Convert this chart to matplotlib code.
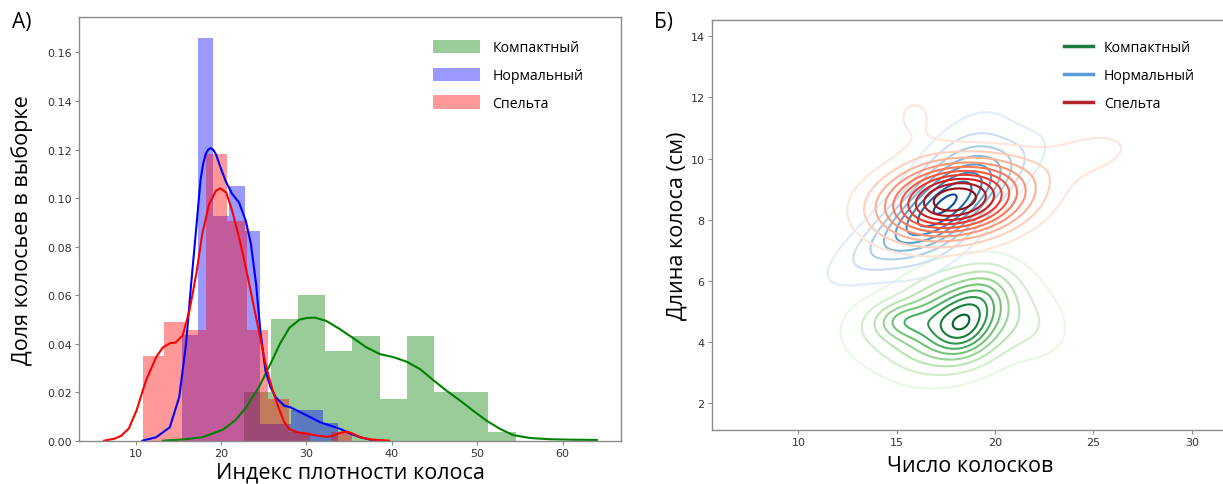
import numpy as np
import matplotlib
matplotlib.use("Agg")
import matplotlib.pyplot as plt
from matplotlib.lines import Line2D
from matplotlib.patches import Patch

# ---------------- Panel A: spike density index ----------------
groups = ["Компактный", "Нормальный", "Спельта"]
hist_colors = ["green", "blue", "red"]

compact_bins = [22.66, 25.84, 29.03, 32.21, 35.39, 38.58, 41.76, 44.94, 48.12, 51.31, 54.49]
compact_hist = [0.020, 0.050, 0.060, 0.037, 0.043, 0.017, 0.043, 0.020, 0.020, 0.0036]

normal_bins = [15.43, 17.26, 19.09, 20.92, 22.75, 24.58, 26.41, 28.24, 30.07, 31.90, 33.73]
normal_hist = [0.0435, 0.166, 0.0927, 0.105, 0.0865, 0.0068, 0.0068, 0.0127, 0.0127, 0.0072]

spelt_bins = [10.84, 13.29, 15.74, 18.19, 20.64, 23.09, 25.54, 27.99, 30.44, 32.89, 35.34]
spelt_hist = [0.035, 0.049, 0.0456, 0.118, 0.0906, 0.0456, 0.0171, 0.0036, 0.0, 0.0036]

# density curves
compact_kde_x = [13.2, 15.5, 17.8, 20.2, 21.7, 23.0, 24.5, 25.7, 26.9, 28.0, 29.2, 30.1, 31.0,
                 32.3, 33.9, 35.5, 37.0, 38.6, 40.2, 41.7, 43.3, 44.8, 46.4, 48.0, 49.5,
                 51.1, 52.7, 54.2, 56.2, 58.5, 61.0, 64.0]
compact_kde_y = [0.0, 0.0005, 0.0014, 0.0045, 0.0085, 0.0140, 0.0225, 0.0310, 0.0400, 0.0465,
                 0.0499, 0.0506, 0.0507, 0.0494, 0.0460, 0.0422, 0.0385, 0.0357, 0.0344, 0.0326,
                 0.0295, 0.0251, 0.0206, 0.0165, 0.0124, 0.0082, 0.0048, 0.0023, 0.0011,
                 0.0006, 0.0004, 0.0003]

normal_kde_x = [10.8, 12.4, 14.0, 15.1, 15.9, 16.5, 17.1, 17.6, 17.9, 18.2, 18.5, 18.8, 19.1,
                19.4, 20.0, 20.6, 21.3, 22.1, 22.9, 23.5, 24.1, 24.6, 25.2, 25.8, 26.4, 27.4,
                28.1, 29.3, 30.5, 31.6, 32.8, 34.0, 35.2, 36.3, 38.0]
normal_kde_y = [0.0, 0.0014, 0.0055, 0.0179, 0.0398, 0.0646, 0.0879, 0.1075, 0.1140, 0.1181,
                0.1200, 0.1206, 0.1198, 0.1181, 0.1120, 0.1065, 0.1017, 0.0982, 0.0906,
                0.0810, 0.0646, 0.0453, 0.0288, 0.0220, 0.0179, 0.0144, 0.0138, 0.0117,
                0.0096, 0.0076, 0.0062, 0.0048, 0.0028, 0.0014, 0.0]

spelt_kde_x = [6.3, 7.5, 8.3, 9.2, 10.1, 11.2, 12.4, 13.2, 14.0, 14.7, 15.5, 16.3, 17.1, 17.8,
               18.6, 19.4, 19.9, 20.6, 21.3, 22.1, 22.9, 23.7, 24.5, 25.2, 25.7, 26.2, 26.8,
               27.4, 28.0, 28.9, 30.1, 31.3, 32.4, 33.2, 34.0, 34.8, 35.5, 36.3, 37.5, 39.7]
spelt_kde_y = [0.0, 0.0008, 0.0020, 0.0050, 0.0124, 0.0247, 0.0344, 0.0385, 0.0401, 0.0405,
               0.0433, 0.0536, 0.0687, 0.0852, 0.0975, 0.1030, 0.1040, 0.1023, 0.0948,
               0.0838, 0.0714, 0.0577, 0.0440, 0.0316, 0.0250, 0.0190, 0.0130, 0.0076,
               0.0048, 0.0035, 0.0028, 0.0021, 0.0016, 0.0021, 0.0033, 0.0037, 0.0028,
               0.0014, 0.0005, 0.0]

x_ticks_a = [10, 20, 30, 40, 50, 60]
y_ticks_a = [0.00, 0.02, 0.04, 0.06, 0.08, 0.10, 0.12, 0.14, 0.16]

# ---------------- Panel B: spikelets vs spike length ----------------
# density components: (mean x, mean y, sd x, sd y, correlation, weight)
compact_components = [
    (17.9, 4.70, 2.40, 1.15, 0.25, 0.64),
    (18.16, 4.37, 1.00, 0.60, 0.00, 0.05),
    (19.2, 5.30, 1.00, 0.70, 0.30, 0.05),
    (15.2, 4.70, 1.00, 0.40, 0.00, 0.035),
    (22.5, 4.30, 1.30, 0.80, 0.00, 0.04),
    (13.0, 4.40, 1.20, 0.80, 0.00, 0.03),
]
normal_components = [
    (17.75, 8.85, 1.90, 1.60, 0.55, 0.50),
    (16.90, 8.25, 3.10, 1.35, 0.85, 0.50),
]
spelt_components = [
    (17.95, 8.66, 2.50, 0.85, 0.20, 0.86),
    (15.90, 11.4, 1.30, 0.85, 0.00, 0.045),
    (25.00, 10.2, 2.10, 0.70, 0.30, 0.065),
]
contour_cmaps = ["Greens", "Blues", "Reds"]
legend_colors_b = ["#1d7b3e", "#5b9bd5", "#b5232d"]

x_ticks_b = [10, 15, 20, 25, 30]
y_ticks_b = [2, 4, 6, 8, 10, 12, 14]

plt.rcParams["font.family"] = ["Open Sans", "DejaVu Sans"]
tick_font = ["Liberation Sans Narrow", "DejaVu Sans"]

fig = plt.figure(figsize=(12.23, 4.85), dpi=100)
ax_a = fig.add_axes([0.0646, 0.0893, 0.4432, 0.8730])
ax_b = fig.add_axes([0.5818, 0.1120, 0.4226, 0.8453])

for bins, hist, color in zip([compact_bins, normal_bins, spelt_bins],
                             [compact_hist, normal_hist, spelt_hist], hist_colors):
    edges = np.asarray(bins)
    ax_a.bar(edges[:-1], hist, width=np.diff(edges), align="edge",
             color=color, alpha=0.4, linewidth=0)

for xs, ys, color in zip([compact_kde_x, normal_kde_x, spelt_kde_x],
                         [compact_kde_y, normal_kde_y, spelt_kde_y], hist_colors):
    ax_a.plot(xs, ys, color=color, lw=1.5)

ax_a.set_xlim(3.37, 66.83)
ax_a.set_ylim(0, 0.1745)
ax_a.set_xticks(x_ticks_a)
ax_a.set_yticks(y_ticks_a)
ax_a.set_yticklabels([f"{v:.2f}" for v in y_ticks_a])
ax_a.set_xlabel("Индекс плотности колоса", fontsize=15.5, labelpad=3)
ax_a.set_ylabel("Доля колосьев в выборке", fontsize=15.5, labelpad=10)

handles_a = [Patch(facecolor=c, alpha=0.4, linewidth=0) for c in hist_colors]
ax_a.legend(handles_a, groups, loc="upper left", bbox_to_anchor=(0.653, 0.947),
            frameon=False, fontsize=10.2, handlelength=3.3, handleheight=1.05,
            handletextpad=0.9, labelspacing=0.88, borderpad=0, borderaxespad=0)

# Panel B contours
gx = np.linspace(5.5, 32.0, 320)
gy = np.linspace(1.0, 14.6, 320)
GX, GY = np.meshgrid(gx, gy)


def mixture_density(components):
    z = np.zeros_like(GX)
    for mx, my, sx, sy, rho, w in components:
        dx = (GX - mx) / sx
        dy = (GY - my) / sy
        q = (dx ** 2 - 2 * rho * dx * dy + dy ** 2) / (1 - rho ** 2)
        z += w * np.exp(-0.5 * q) / (2 * np.pi * sx * sy * np.sqrt(1 - rho ** 2))
    return z


for comps, cmap in zip([compact_components, normal_components, spelt_components], contour_cmaps):
    ax_b.contour(GX, GY, mixture_density(comps), levels=10, cmap=cmap, linewidths=1.5)

ax_b.set_xlim(5.58, 31.86)
ax_b.set_ylim(1.137, 14.54)
ax_b.set_xticks(x_ticks_b)
ax_b.set_yticks(y_ticks_b)
ax_b.set_xlabel("Число колосков", fontsize=15.5, labelpad=6)
ax_b.set_ylabel("Длина колоса (см)", fontsize=15.5, labelpad=2)

handles_b = [Line2D([], [], color=c, lw=2.5) for c in legend_colors_b]
ax_b.legend(handles_b, groups, loc="upper left", bbox_to_anchor=(0.6825, 0.951),
            frameon=False, fontsize=10.2, handlelength=2.0, handletextpad=0.8,
            labelspacing=0.92, borderpad=0, borderaxespad=0)

for ax in (ax_a, ax_b):
    for sp in ax.spines.values():
        sp.set_color("#8a8a8a")
        sp.set_linewidth(1.0)
    ax.tick_params(direction="out", length=3, width=0.8, color="#8a8a8a",
                   labelsize=8, labelcolor="#333333", pad=2)
    for lab in ax.get_xticklabels() + ax.get_yticklabels():
        lab.set_family(tick_font)

fig.text(0.010, 0.975, "А)", fontsize=15, va="top", ha="left")
fig.text(0.535, 0.975, "Б)", fontsize=15, va="top", ha="left")

fig.savefig("out.png", dpi=100)
